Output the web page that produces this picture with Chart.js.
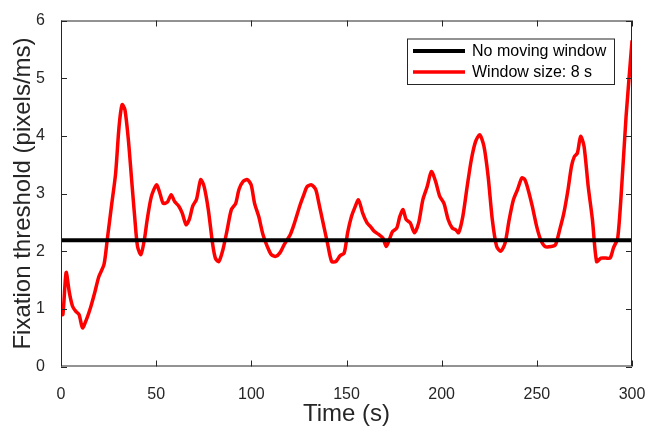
<!DOCTYPE html>
<html>
<head>
<meta charset="utf-8">
<script src="https://cdn.jsdelivr.net/npm/chart.js@4/dist/chart.umd.min.js"></script>
<style>
html,body{margin:0;padding:0;background:#fff;}
canvas{display:block;}
</style>
</head>
<body>
<canvas id="c" width="660" height="427" style="width:660px;height:427px"></canvas>
<script>
const seriesLabels = ["No moving window", "Window size: 8 s"];
const baselineValue = 2.19;
const times = [0,1,2.7,4.4,6,7.7,9.5,11.3,13.3,15.5,17.7,19.9,22.6,24.3,26.5,28.7,30.5,32.1,33.6,35.4,37.1,38.7,40.2,42,43.8,45.3,47.5,50.2,52,53.7,55.9,57.9,59.7,61.9,63.7,65.7,67.4,69.2,71.2,73.4,75.2,77.4,79.6,81.1,82.9,85.1,87.3,89.5,91.8,93.5,95.7,97.9,99.9,101.7,103.9,106.1,108.4,110.5,112.8,115,117.2,120.5,122.7,125.4,127.6,129.3,131.6,133.8,135.5,137.7,140,142.2,144.4,146.6,148.8,150.6,152.6,154.3,156.3,158.5,160.8,162.5,164.7,166.9,169.1,170.9,172.5,174.2,176.4,178,179.7,181.3,183.5,185.7,187.9,190.1,192.4,194.6,196.8,199,201.2,203.4,205.6,207.4,208.9,211.1,213.4,215.6,217.8,220,222.2,224.4,226.6,228.9,231.1,233.3,235.5,237.7,239.9,242.1,243.7,245.4,247.6,249.9,252,254.3,257.6,259.8,262,264.2,266.4,268.2,269.7,271.3,273,274.8,277,279.2,281.4,283.7,286.3,288.5,290.3,292.5,294.7,296.9,300];
const windowValues = [0.9,0.9,1.63,1.28,1.05,0.96,0.9,0.67,0.81,1.02,1.28,1.56,1.77,2.2,2.78,3.35,4.16,4.54,4.45,3.93,3.24,2.6,2.08,1.94,2.2,2.55,2.95,3.15,3.0,2.83,2.85,2.98,2.86,2.78,2.66,2.46,2.55,2.78,2.9,3.24,3.12,2.72,2.14,1.88,1.82,2.03,2.37,2.72,2.83,3.07,3.21,3.24,3.15,2.83,2.6,2.29,2.08,1.94,1.91,1.97,2.11,2.29,2.49,2.78,2.98,3.12,3.15,3.07,2.83,2.49,2.14,1.82,1.82,1.92,1.97,2.32,2.6,2.75,2.89,2.66,2.49,2.43,2.34,2.29,2.23,2.08,2.2,2.34,2.4,2.6,2.72,2.55,2.49,2.32,2.49,2.89,3.12,3.38,3.21,2.95,2.83,2.55,2.4,2.37,2.32,2.6,3.12,3.59,3.9,4.02,3.82,3.3,2.55,2.08,2.0,2.14,2.55,2.89,3.07,3.27,3.24,3.07,2.78,2.43,2.2,2.08,2.08,2.11,2.37,2.66,3.07,3.47,3.64,3.7,3.99,3.82,3.12,2.55,1.82,1.88,1.88,1.88,2.06,2.23,3.18,4.34,5.64];
const xTickStep = 50, xMin = 0, xMax = 300;
const yTickStep = 1, yMin = 0, yMax = 6;

const AX = '#262626';
const FONT = "'Liberation Sans', Arial, Helvetica, sans-serif";

const framePlugin = {
  id: 'frame',
  afterDatasetsDraw(chart) {
    const {ctx, chartArea: a, scales} = chart;
    ctx.save();
    ctx.strokeStyle = AX;
    ctx.lineWidth = 1;
    ctx.strokeRect(a.left + 0.5, a.top + 0.5, a.right - a.left - 1, a.bottom - a.top - 1);
    const L = 6;
    ctx.beginPath();
    scales.x.ticks.forEach(t => {
      const p = Math.round(scales.x.getPixelForValue(t.value)) + 0.5;
      ctx.moveTo(p, a.bottom); ctx.lineTo(p, a.bottom - L);
      ctx.moveTo(p, a.top); ctx.lineTo(p, a.top + L);
    });
    scales.y.ticks.forEach(t => {
      const p = Math.round(scales.y.getPixelForValue(t.value)) + 0.5;
      ctx.moveTo(a.left, p); ctx.lineTo(a.left + L, p);
      ctx.moveTo(a.right, p); ctx.lineTo(a.right - L, p);
    });
    ctx.stroke();
    ctx.restore();
  },
  afterDraw(chart) {
    const {ctx} = chart;
    const ds = chart.data.datasets;
    const bx = 407, by = 38.5, bw = 207, bh = 45.5;
    ctx.save();
    ctx.fillStyle = '#fff';
    ctx.fillRect(bx, by, bw, bh);
    ctx.strokeStyle = AX;
    ctx.lineWidth = 1;
    ctx.strokeRect(bx + 0.5, by + 0.5, bw, bh);
    ds.forEach((d, i) => {
      const y = 51 + i * 21;
      ctx.strokeStyle = d.borderColor;
      ctx.lineWidth = d.borderWidth;
      ctx.beginPath();
      ctx.moveTo(413, y); ctx.lineTo(465, y);
      ctx.stroke();
      ctx.fillStyle = '#000';
      ctx.font = "16px " + FONT;
      ctx.textBaseline = 'middle';
      ctx.textAlign = 'left';
      ctx.fillText(d.label, 472, y + 0.5);
    });
    ctx.restore();
  }
};

new Chart(document.getElementById('c'), {
  type: 'line',
  data: {
    datasets: [
      {
        label: seriesLabels[0],
        data: [{x: xMin, y: baselineValue}, {x: xMax, y: baselineValue}],
        borderColor: '#000000',
        borderWidth: 4,
        pointRadius: 0,
        tension: 0
      },
      {
        label: seriesLabels[1],
        data: times.map((t, i) => ({x: t, y: windowValues[i]})),
        borderColor: '#ff0000',
        borderWidth: 3.5,
        pointRadius: 0,
        tension: 0.25,
        borderJoinStyle: 'round',
        borderCapStyle: 'round'
      }
    ]
  },
  options: {
    responsive: false,
    animation: false,
    devicePixelRatio: 1,
    layout: {padding: {left: 0, top: 20.5, right: 28, bottom: 0}},
    plugins: {legend: {display: false}, tooltip: {enabled: false}},
    scales: {
      x: {
        type: 'linear',
        min: xMin, max: xMax,
        grid: {display: false},
        border: {display: false},
        ticks: {stepSize: xTickStep, color: AX, padding: 10, font: {family: FONT, size: 16}, maxRotation: 0},
        title: {display: true, text: 'Time (s)', color: AX, font: {family: FONT, size: 24}, padding: {top: 0, bottom: -2}},
        afterFit(s) { s.height = 60.5; }
      },
      y: {
        type: 'linear',
        min: yMin, max: yMax,
        grid: {display: false},
        border: {display: false},
        ticks: {stepSize: yTickStep, color: AX, padding: 8, font: {family: FONT, size: 16}},
        title: {display: true, text: 'Fixation threshold (pixels/ms)', color: AX, font: {family: FONT, size: 24}, padding: {top: 9, bottom: 0}},
        afterFit(s) { s.width = 61; }
      }
    }
  },
  plugins: [framePlugin]
});
</script>
</body>
</html>
